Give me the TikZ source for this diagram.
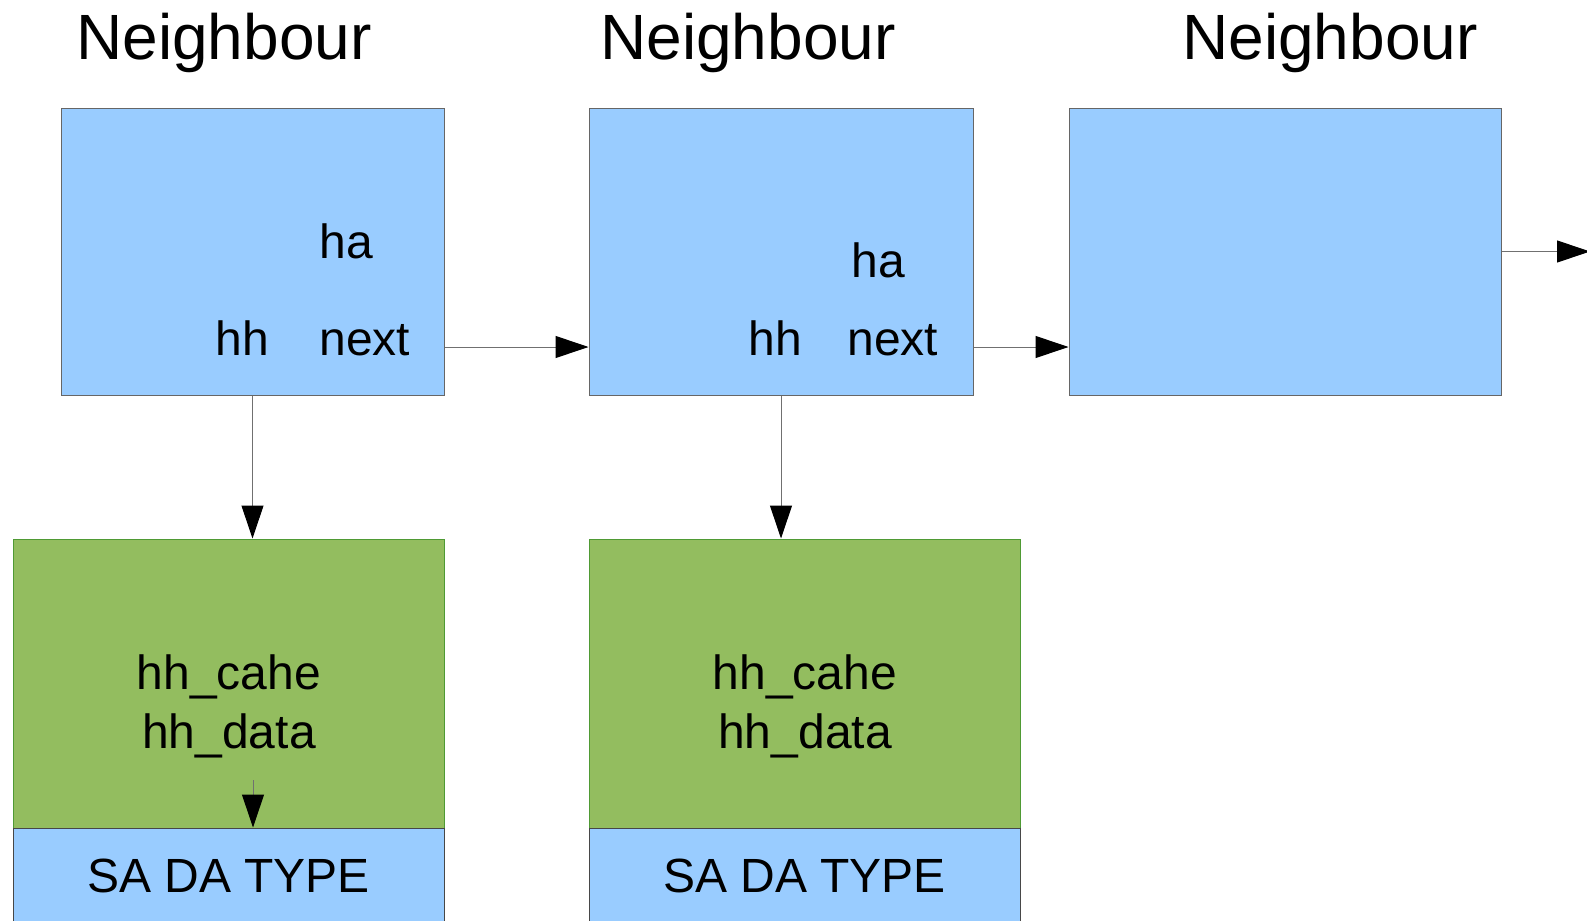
\documentclass[tikz,border=0pt]{standalone}
\usepackage{fontspec}
\setmainfont{Liberation Sans}
\usetikzlibrary{arrows.meta}
\definecolor{boxblue}{HTML}{99CCFF}
\definecolor{boxgreen}{HTML}{93BD5F}
\definecolor{edgegreen}{HTML}{4F9A34}
\definecolor{edgegray}{HTML}{666666}
\definecolor{linegray}{HTML}{707070}
\tikzset{node distance=96pt,
  nbox/.style={draw=edgegray, fill=boxblue, line width=0.5pt, inner sep=0pt},
  cbox/.style={draw=edgegreen, fill=boxgreen, line width=0.5pt, inner sep=0pt},
  tbox/.style={draw=edgegray!70!black, fill=boxblue, line width=0.5pt, inner sep=0pt,
    font=\fontsize{24}{29.5}\selectfont},
  title/.style={anchor=base west, inner sep=0pt, font=\fontsize{32}{38}\selectfont},
  field/.style={anchor=base west, inner sep=0pt, font=\fontsize{24}{29.5}\selectfont},
  ptr/.style={draw=linegray, line width=0.5pt, -{Triangle[length=16.5pt,width=11pt,color=black]}}}

\begin{document}
\begin{tikzpicture}[x=0.5pt,y=-0.5pt]
                \path[use as bounding box, fill=white] (0,0) rectangle (1587,921);
                % the neighbour list
                \node (T1) [title] at (76,59)   {Neighbour};
                \node (T2) [title] at (600,59)  {Neighbour};
                \node (T3) [title] at (1182,59) {Neighbour};
                \node (N1) [nbox, minimum width=191.5pt, minimum height=143.5pt] at (252.5,251.5) {};
                \node (N2) [nbox, minimum width=192pt, minimum height=143.5pt] at (781,251.5) {};
                \node (N3) [nbox, minimum width=216pt, minimum height=143.5pt] at (1285,251.5) {};
                \node (a1) [field] at (319,258) {ha};
                \node (h1) [field] at (215,355) {hh};
                \node (x1) [field] at (319,355) {next};
                \node (a2) [field] at (851,277) {ha};
                \node (h2) [field] at (748,355) {hh};
                \node (x2) [field] at (847,355) {next};
                % hh entries
                \node (H1) [cbox, minimum width=215.5pt, minimum height=144.5pt] at (228.5,683.5) {};
                \node (H2) [cbox, minimum width=215.5pt, minimum height=144.5pt] at (804.5,683.5) {};
                \node (d1) [align=center, inner sep=0pt, font=\fontsize{24}{29.5}\selectfont]
                  at (229,706.5) {hh\_cahe\\hh\_data};
                \node (d2) [align=center, inner sep=0pt, font=\fontsize{24}{29.5}\selectfont]
                  at (805,706.5) {hh\_cahe\\hh\_data};
                \node (S1) [tbox, below of=H1, minimum width=215.5pt, minimum height=47.5pt] {SA DA TYPE};
                \node (S2) [tbox, below of=H2, minimum width=215.5pt, minimum height=47.5pt] {SA DA TYPE};
                \coordinate (E) at (1590,251.5);
                \coordinate (D) at (253,780);
                \draw[ptr] ([yshift=-47.75pt]N1.east) -- ([yshift=-47.75pt]N2.west);
                \draw[ptr] ([yshift=-47.75pt]N2.east) -- ([yshift=-47.75pt]N3.west);
                \draw[ptr] (N3.east) -- (E);
                \draw[ptr] (N1.south) -- (N1.south |- H1.north);
                \draw[ptr] (N2.south) -- (N2.south |- H2.north);
                \draw[ptr] (D) -- (D |- S1.north);
              \end{tikzpicture}
\end{document}
